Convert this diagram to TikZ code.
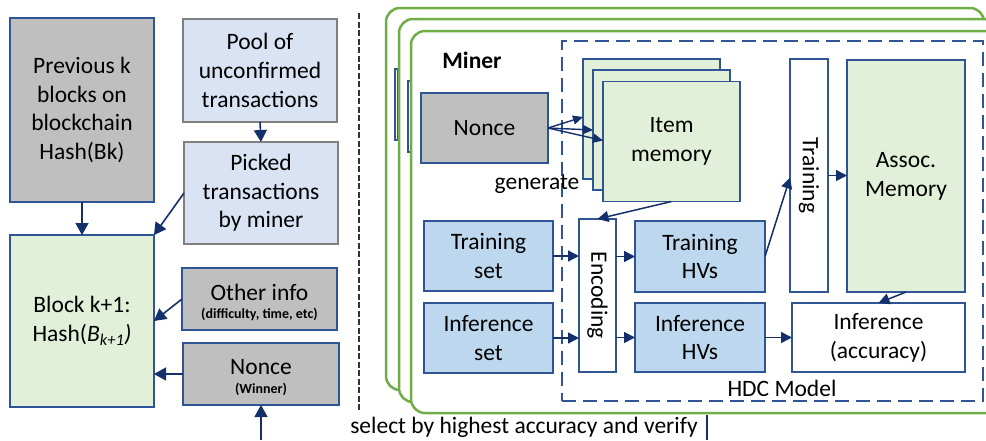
\documentclass[tikz,border=0pt]{standalone}
\usepackage{fontspec}
\setmainfont{Carlito}
\usetikzlibrary{arrows.meta,calc}
\definecolor{bblue}{HTML}{2F5597}
\definecolor{navy}{HTML}{13306B}
\definecolor{gfill}{HTML}{BFBFBF}
\definecolor{poolfill}{HTML}{DAE3F3}
\definecolor{poolgray}{HTML}{808080}
\definecolor{greenfill}{HTML}{E2F0D9}
\definecolor{bluefill}{HTML}{BDD7EE}
\definecolor{framegreen}{HTML}{70AD47}
\begin{document}
\begin{tikzpicture}[x=1pt,y=-1pt,
  font=\fontsize{23.5}{28.7}\selectfont,
  box/.style={draw=bblue, line width=1.6pt, inner sep=0pt, outer sep=0pt, align=center, text=black},
  graybox/.style={box, fill=gfill},
  poolbox/.style={box, draw=poolgray, fill=poolfill},
  greenbox/.style={box, fill=greenfill},
  bluebox/.style={box, fill=bluefill},
  whitebox/.style={box, fill=white},
  arr/.style={draw=navy, line width=1.6pt, -{Triangle[length=12pt,width=13pt]}},
  sarr/.style={draw=navy, line width=1.5pt, -{Triangle[length=11pt,width=11pt]}},
  tarr/.style={draw=navy, line width=1.4pt, -{Triangle[length=10pt,width=9pt]}},
  frame/.style={draw=framegreen, line width=2.5pt, fill=white, rounded corners=14pt},
  strip/.style={draw=bblue, line width=1.2pt, fill=white},
  lbl/.style={inner sep=0pt, outer sep=0pt, text=black},
  small/.style={lbl, font=\fontsize{14}{16}\selectfont\bfseries}]
\useasboundingbox (0,0) rectangle (986,440);

% ---------- left part ----------
\node[graybox, minimum width=144, minimum height=184] (prev) at (82,110)
  {Previous k\\blocks on\\blockchain\\Hash(Bk)};
\node[poolbox, minimum width=154, minimum height=103] (pool) at (260,70.5)
  {Pool of\\unconfirmed\\transactions};
\node[poolbox, minimum width=154, minimum height=102] (picked) at (261,193)
  {Picked\\transactions\\by miner};
\node[greenbox, minimum width=144, minimum height=172] (block) at (82,321)
  {Block k+1:\\Hash(\textit{B}\textsubscript{\textit{k+1}}\textit{)}};
\node[graybox, minimum width=155, minimum height=62] (other) at (259.5,299) {};
\node[lbl] (otherT) at (259.5,292) {Other info};
\node[small] (otherS) at (259.5,314) {(difficulty, time, etc)};
\node[graybox, minimum width=156, minimum height=62] (nonceW) at (261,374) {};
\node[lbl] (nonceWT) at (261,367) {Nonce};
\node[small] (nonceWS) at (261,389) {(Winner)};
\coordinate (wbot) at (261,440);

\draw[arr] (prev.south) -- (block.north);
\draw[arr] (pool.south) -- (picked.north);
\draw[arr] (picked.west) -- (block.north east);
\draw[arr] (other.west) -- (block.east);
\draw[arr] (nonceW.west) -- (nonceW.west -| block.east);
\draw[arr] (wbot) -- (nonceW.south);

% divider
\coordinate (d1) at (359,13);
\coordinate (d2) at (359,412);
\draw[black!80, line width=1.1pt, dash pattern=on 6pt off 2.5pt] (d1) -- (d2);

% ---------- miner frames ----------
\draw[frame] (386,8) rectangle (984,390);
\draw[strip] (395,69) rectangle (397.5,140);
\draw[frame] (399,19) rectangle (997,402);
\draw[strip] (408,81) rectangle (410.5,152);
\draw[frame] (411,31) rectangle (1010,413);

\node[lbl, font=\fontsize{23.5}{28.7}\selectfont\bfseries] (miner) at (472,60) {Miner};

\node[draw=bblue, line width=1.8pt, dash pattern=on 14pt off 7pt, minimum width=421, minimum height=360, inner sep=0pt, outer sep=0pt] (hdc) at (772.5,221) {};
\node[lbl] (hdcT) at (782,388) {HDC Model};

\node[graybox, minimum width=127, minimum height=70] (nonceM) at (484.5,128) {Nonce};
\node[greenbox, minimum width=137, minimum height=120] (im1) at (651.5,119) {};
\node[greenbox, minimum width=137, minimum height=120] (im2) at (661.5,130) {};
\node[greenbox, minimum width=137, minimum height=120] (im3) at (671.5,141.5) {Item\\memory};
\node[lbl] (gen) at (537,184) {generate};

\draw[tarr] (nonceM.east) -- ($(im1.west)+(0,-2)$);
\draw[tarr] (nonceM.east) -- (im2.west);
\draw[tarr] (nonceM.east) -- ($(im3.west)+(0,-1)$);

\node[whitebox, minimum width=38, minimum height=233] (trainBox) at (809,175.5) {};
\node[lbl, rotate=-90] (trainT) at (trainBox) {Training};
\node[greenbox, minimum width=118, minimum height=232] (assoc) at (906,176) {Assoc.\\Memory};

\node[whitebox, minimum width=37, minimum height=153] (enc) at (597.5,295.5) {};
\node[lbl, rotate=-90] (encT) at (enc) {Encoding};

\node[bluebox, minimum width=129, minimum height=70] (trainSet) at (488.5,256) {Training\\set};
\node[bluebox, minimum width=129, minimum height=70] (infSet) at (488.5,338) {Inference\\set};
\node[bluebox, minimum width=130, minimum height=71] (trainHV) at (700,256.5) {Training\\HVs};
\node[bluebox, minimum width=130, minimum height=69] (infHV) at (700,337.5) {Inference\\HVs};
\node[whitebox, minimum width=173, minimum height=69] (infAcc) at (878.5,337.5) {Inference\\(accuracy)};

\draw[sarr] (trainSet.east) -- (trainSet.east -| enc.west);
\draw[sarr] (infSet.east) -- (infSet.east -| enc.west);
\draw[sarr] (enc.east |- trainHV.west) -- (trainHV.west);
\draw[sarr] (enc.east |- infHV.west) -- (infHV.west);
\draw[sarr] (infHV.east) -- (infAcc.west);
\draw[sarr] (trainHV.east) -- ($(trainBox.west)+(0,2)$);
\draw[sarr] (trainBox.east) -- (trainBox.east -| assoc.west);
\draw[sarr] (im3.south) -- (enc.north);
\draw[sarr] (assoc.south) -- (infAcc.north);

% bottom text
\node[lbl] (sel) at (524,427) {select by highest accuracy and verify};
\coordinate (v1) at (707,415);
\coordinate (v2) at (707,440);
\draw[navy, line width=1.2pt] (v1) -- (v2);
\end{tikzpicture}
\end{document}
